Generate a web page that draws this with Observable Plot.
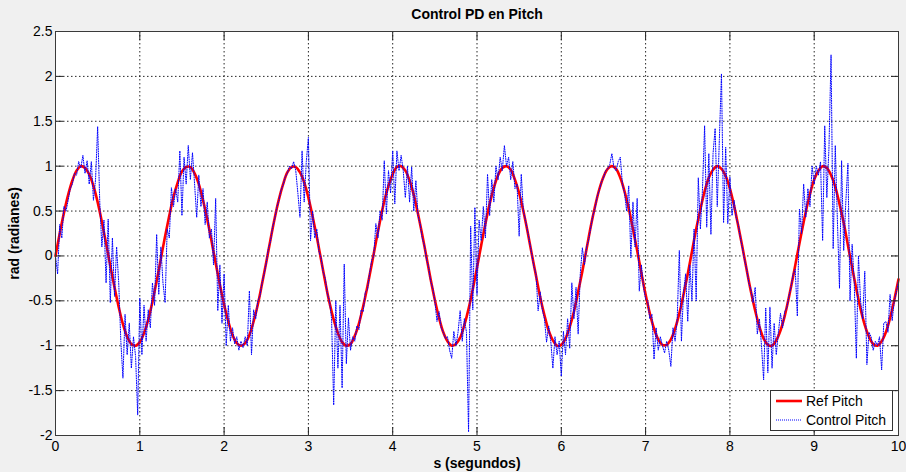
<!DOCTYPE html>
<html>
<head>
<meta charset="utf-8">
<script src="https://cdn.jsdelivr.net/npm/d3@7"></script>
<script src="https://cdn.jsdelivr.net/npm/@observablehq/plot@0.6"></script>
<style>
  html, body { margin: 0; padding: 0; background: #f0f0f0; }
  #wrap { position: relative; width: 906px; height: 472px; font-family: "Liberation Sans", Arial, sans-serif; }
  #legend { position: absolute; left: 770px; top: 390px; width: 121px; height: 39px; background: #fff; border: 1px solid #333; font-size: 14px; color: #000; }
  #legend .row { position: absolute; left: 4px; height: 18px; display: flex; align-items: center; white-space: nowrap; }
  #legend svg { display: block; margin-right: 3px; }
</style>
</head>
<body>
<div id="wrap"></div>
<script>
// ---- Data ----
const chartTitle = "Control PD en Pitch";
const xLabel = "s (segundos)";
const yLabel = "rad (radianes)";
const seriesNames = ["Ref Pitch", "Control Pitch"];
const xTicks = [0, 1, 2, 3, 4, 5, 6, 7, 8, 9, 10];
const yTicks = [-2, -1.5, -1, -0.5, 0, 0.5, 1, 1.5, 2, 2.5];

// Ref Pitch, sampled every 0.05 s from t = 0 to t = 10
const refStep = 0.05;
const refPitch = [
  0.00,0.25,0.48,0.68,0.84,0.95,1.00,0.98,0.91,0.78,0.60,0.38,0.14,-0.11,-0.35,-0.57,-0.76,-0.90,-0.98,-1.00,-0.96,-0.86,-0.71,-0.51,-0.28,-0.03,
  0.22,0.45,0.66,0.82,0.94,0.99,0.99,0.92,0.80,0.62,0.41,0.17,-0.08,-0.32,-0.54,-0.73,-0.88,-0.97,-1.00,-0.97,-0.88,-0.73,-0.54,-0.31,-0.07,
  0.18,0.42,0.63,0.80,0.93,0.99,0.99,0.93,0.82,0.65,0.44,0.21,-0.04,-0.29,-0.52,-0.71,-0.86,-0.96,-1.00,-0.98,-0.89,-0.75,-0.56,-0.34,-0.10,
  0.15,0.39,0.61,0.78,0.91,0.99,1.00,0.95,0.84,0.68,0.47,0.24,-0.01,-0.26,-0.49,-0.69,-0.85,-0.95,-1.00,-0.98,-0.91,-0.77,-0.59,-0.37,-0.13,
  0.12,0.36,0.58,0.76,0.90,0.98,1.00,0.96,0.85,0.70,0.50,0.27,0.02,-0.22,-0.46,-0.66,-0.83,-0.94,-1.00,-0.99,-0.92,-0.79,-0.62,-0.40,-0.17,
  0.08,0.33,0.55,0.74,0.88,0.97,1.00,0.97,0.87,0.72,0.53,0.30,0.06,-0.19,-0.43,-0.64,-0.81,-0.93,-0.99,-0.99,-0.93,-0.81,-0.64,-0.43,-0.20,
  0.05,0.30,0.52,0.72,0.87,0.96,1.00,0.97,0.89,0.75,0.56,0.33,0.09,-0.16,-0.40,-0.61,-0.79,-0.92,-0.99,-1.00,-0.94,-0.83,-0.67,-0.46,-0.23,
  0.02,0.26,0.49,0.69,0.85,0.95,1.00,0.98,0.90,0.77,0.58,0.37,0.12,-0.13,-0.37,-0.59,-0.77,-0.90,-0.98,-1.00,-0.95,-0.85,-0.69,-0.49,-0.26
];

// Control Pitch, sampled every 0.025 s from t = 0 to t = 10
const ctlStep = 0.025;
const controlPitch = [
  0.00,-0.20,0.35,0.20,0.55,0.50,0.62,0.75,0.80,0.92,
  0.90,1.05,0.98,1.12,0.92,1.06,0.80,1.05,0.62,0.85,
  1.44,0.60,0.10,0.40,-0.30,0.41,-0.52,0.20,-0.45,0.10,
  -0.30,-0.95,-1.36,-0.65,-1.10,-0.75,-1.25,-0.90,-1.12,-1.77,
  -0.47,-1.10,-0.55,-0.95,-0.60,-0.80,-0.30,-0.55,0.24,-0.43,
  0.10,-0.30,-0.52,0.30,0.20,0.76,0.55,0.75,0.60,1.17,
  0.45,1.10,0.80,1.23,0.85,1.15,0.80,0.43,0.90,0.55,
  0.75,0.35,0.60,0.20,0.30,-0.10,0.64,-0.61,-0.10,-0.75,
  -0.20,-1.00,-0.55,-0.95,-0.80,-0.98,-0.90,-1.05,-0.95,-1.02,
  -0.90,-1.00,-0.39,-1.10,-0.60,-0.70,-0.50,-0.45,-0.30,-0.20,
  -0.08,0.08,0.16,0.32,0.41,0.54,0.62,0.73,0.79,0.88,
  0.92,1.00,0.97,1.05,0.95,0.70,0.43,1.17,0.60,1.05,
  1.32,0.17,0.50,0.20,0.30,0.05,-0.02,-0.18,-0.25,-0.42,
  -0.50,-0.70,-1.66,-0.50,-1.25,-0.55,-1.47,-0.09,-1.20,-0.69,
  -1.05,-0.90,-0.95,-0.78,-0.82,-0.60,-0.62,-0.40,-0.38,-0.20,
  -0.05,0.00,0.36,0.20,0.50,0.40,1.06,0.47,0.95,0.70,
  1.17,0.58,1.17,0.95,1.12,0.95,0.65,1.00,0.60,0.99,
  0.50,0.84,0.45,0.36,0.20,0.12,-0.03,-0.12,-0.28,-0.36,
  -0.50,-0.73,-0.62,-0.80,-0.85,-0.92,-0.90,-1.05,-1.14,-0.84,
  -1.00,-0.85,-0.61,-0.95,-0.70,-0.85,-1.96,0.33,-0.60,0.54,
  -0.43,0.40,0.17,0.55,0.20,0.91,0.45,0.85,0.60,1.00,
  0.85,1.10,0.95,1.23,1.00,1.10,0.85,1.05,0.75,0.80,
  0.22,0.91,0.50,0.40,0.28,0.15,0.02,-0.12,-0.20,-0.61,
  -0.40,-0.60,-0.70,-0.96,-0.78,-0.95,-1.25,-0.90,-1.10,-0.95,
  -1.34,-0.84,-1.10,-0.70,-1.03,-0.30,-0.70,-0.35,-0.87,-0.20,
  0.09,-0.10,0.10,0.18,0.32,0.45,0.53,0.66,0.73,0.82,
  0.87,0.95,0.97,1.02,1.14,0.98,0.95,1.05,1.10,0.80,
  0.70,0.50,0.78,-0.02,0.60,0.10,0.64,-0.39,-0.10,-0.35,
  -0.48,-0.50,-0.70,-0.65,-1.15,-0.80,-1.05,-0.90,-1.00,-1.08,
  -0.95,-1.05,-1.23,-0.80,-0.95,-0.70,0.06,-0.95,-0.40,-0.20,
  -0.73,-0.10,-0.50,0.30,-0.50,0.87,0.30,0.75,1.45,0.32,
  1.14,0.24,1.14,1.42,0.55,1.30,2.03,0.37,1.21,0.36,
  0.88,0.45,0.62,0.42,0.35,0.20,0.08,-0.05,-0.15,-0.30,
  -0.38,-0.52,-0.35,-0.87,-0.70,-1.00,-1.38,-0.58,-1.30,-0.57,
  -1.25,-0.75,-1.10,-0.85,-0.64,-0.80,-0.62,-0.58,-0.45,-0.35,
  -0.20,-0.15,-0.67,0.52,0.25,0.80,0.43,0.75,0.55,1.00,
  0.80,1.00,0.90,1.05,0.17,1.45,0.65,1.20,2.24,0.08,
  1.23,0.40,-0.36,1.06,0.06,0.60,1.03,-0.50,0.13,-0.30,
  -1.14,0.00,-0.50,-0.70,-0.17,-1.21,-0.85,-0.90,-1.05,-0.95,
  -1.00,-0.90,-1.27,-0.75,-0.73,-0.85,-0.43,-0.72,-0.50,-0.40,-0.28
];

const refData = refPitch.map((v, i) => ({t: i * refStep, v}));
const ctlData = controlPitch.map((v, i) => ({t: i * ctlStep, v}));

const fontFamily = '"Liberation Sans", Arial, sans-serif';
const fmt = d => String(d);
const gridStyle = {stroke: "#000", strokeOpacity: 0.85, strokeWidth: 1, strokeDasharray: "1.5,2.5"};

const chart = Plot.plot({
  width: 906,
  height: 472,
  marginLeft: 55,
  marginRight: 8,
  marginTop: 31,
  marginBottom: 37,
  style: {background: "#f0f0f0", fontFamily, fontSize: "14px", color: "#000", overflow: "visible"},
  x: {domain: [0, 10]},
  y: {domain: [-2, 2.5]},
  marks: [
    Plot.frame({fill: "#fff", stroke: null}),
    Plot.gridX(xTicks, gridStyle),
    Plot.gridY(yTicks, gridStyle),
    Plot.line(refData, {x: "t", y: "v", stroke: "#ff0000", strokeWidth: 2.6, curve: "catmull-rom"}),
    Plot.line(ctlData, {x: "t", y: "v", stroke: "#0000ff", strokeWidth: 1, strokeDasharray: "1,1.4"}),
    // inward tick marks on all four sides
    Plot.axisX(xTicks, {anchor: "bottom", tickSize: 8, dy: -8, fill: "none", stroke: "#222", label: null}),
    Plot.axisX(xTicks, {anchor: "top", tickSize: 8, dy: 8, fill: "none", stroke: "#222", label: null}),
    Plot.axisY(yTicks, {anchor: "left", tickSize: 8, dx: 8, fill: "none", stroke: "#222", label: null}),
    Plot.axisY(yTicks, {anchor: "right", tickSize: 8, dx: -8, fill: "none", stroke: "#222", label: null}),
    // tick labels
    Plot.axisX(xTicks, {anchor: "bottom", tickSize: 0, tickPadding: 6, tickFormat: fmt, label: null, fontSize: 14}),
    Plot.axisY(yTicks, {anchor: "left", tickSize: 0, tickPadding: 3, tickFormat: fmt, label: null, fontSize: 14}),
    Plot.frame({stroke: "#3a3a3a", strokeWidth: 1}),
    // title and axis labels
    Plot.text([chartTitle], {text: d => d, frameAnchor: "top", dy: -17, lineAnchor: "middle", textAnchor: "middle", fontWeight: "bold", fontSize: 14}),
    Plot.text([xLabel], {text: d => d, frameAnchor: "bottom", dy: 28, lineAnchor: "middle", textAnchor: "middle", fontWeight: "bold", fontSize: 14}),
    Plot.text([yLabel], {text: d => d, frameAnchor: "left", dx: -41, rotate: -90, lineAnchor: "middle", textAnchor: "middle", fontWeight: "bold", fontSize: 14})
  ]
});

const wrap = document.getElementById("wrap");
wrap.appendChild(chart);

// legend inside the axes, lower right corner
const legend = document.createElement("div");
legend.id = "legend";
legend.innerHTML = `
  <div class="row" style="top:1px">
    <svg width="28" height="6"><line x1="1" y1="3" x2="27" y2="3" stroke="#ff0000" stroke-width="2.6"/></svg>
    <span>${seriesNames[0]}</span>
  </div>
  <div class="row" style="top:20px">
    <svg width="28" height="6"><line x1="1" y1="3" x2="27" y2="3" stroke="#0000ff" stroke-width="1.2" stroke-dasharray="1,1"/></svg>
    <span>${seriesNames[1]}</span>
  </div>`;
wrap.appendChild(legend);
</script>
</body>
</html>
